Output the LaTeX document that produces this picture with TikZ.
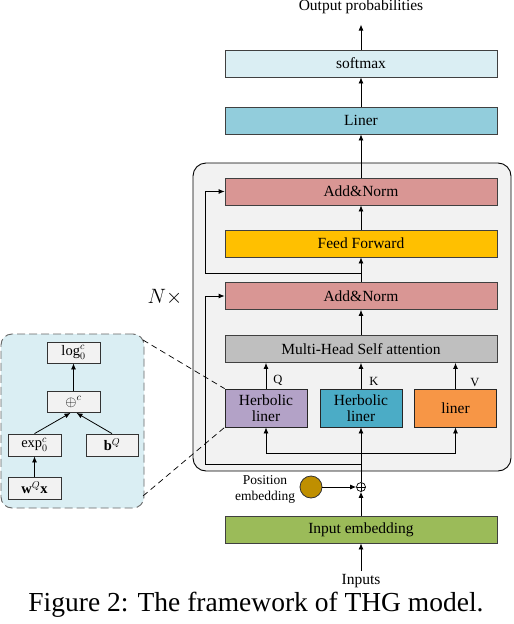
\documentclass[tikz,border=0pt]{standalone}
\usepackage{fontspec}
\setmainfont{Liberation Serif}
\usetikzlibrary{arrows.meta,calc}
\definecolor{cSoft}{HTML}{DAEEF3}
\definecolor{cLiner}{HTML}{92CDDC}
\definecolor{cAdd}{HTML}{D99694}
\definecolor{cFF}{HTML}{FFC000}
\definecolor{cMH}{HTML}{BFBFBF}
\definecolor{cHa}{HTML}{B3A2C7}
\definecolor{cHb}{HTML}{4BACC6}
\definecolor{cLin}{HTML}{F79646}
\definecolor{cIn}{HTML}{9BBB59}
\definecolor{cBig}{HTML}{F2F2F2}
\definecolor{cPos}{HTML}{BF8F00}
\definecolor{cInset}{HTML}{DAEEF3}
\begin{document}
\begin{tikzpicture}[x=1pt,y=-1pt,
  box/.style={draw=black!75,line width=0.8pt,rectangle,minimum width=272pt,minimum height=27pt,inner sep=0pt,font=\fontsize{15.5}{18}\selectfont},
  sbox/.style={draw=black!85,line width=0.8pt,rectangle,minimum width=82pt,minimum height=38pt,inner sep=0pt,align=center,font=\fontsize{15.5}{16}\selectfont},
  ibox/.style={draw=black!80,line width=0.8pt,fill=cBig,rectangle,minimum width=53pt,minimum height=21pt,inner sep=0pt,font=\fontsize{14.5}{16}\selectfont},
  arr/.style={-{Latex[length=6pt,width=5pt]},line width=0.8pt},
  ln/.style={line width=0.8pt},
  zoomln/.style={line width=0.7pt,dash pattern=on 6pt off 4pt},
  lbl/.style={font=\fontsize{15.5}{18}\selectfont,inner sep=0pt},
  qkv/.style={font=\fontsize{12.5}{14}\selectfont,inner sep=0pt}]
\useasboundingbox (0,0) rectangle (514,624);
% big box
\node[draw=black,line width=0.9pt,fill=cBig,rounded corners=13pt,rectangle,minimum width=318pt,minimum height=308pt,inner sep=0pt] (big) at (352,317) {};
% inset
\node[draw=black!60,dash pattern=on 8pt off 4pt,line width=0.9pt,fill=cInset,rounded corners=11pt,rectangle,minimum width=143pt,minimum height=174pt,inner sep=0pt] (inset) at (72.5,421) {};
% main column boxes
\node[box,fill=cSoft] (soft) at (361,63.5) {softmax};
\node[box,fill=cLiner] (liner) at (361,120.5) {Liner};
\node[box,fill=cAdd] (add1) at (361,191.5) {Add\&Norm};
\node[box,fill=cFF] (ff) at (361,243.5) {Feed Forward};
\node[box,fill=cAdd] (add2) at (361,296) {Add\&Norm};
\node[box,fill=cMH] (mh) at (361,349) {Multi-Head Self attention};
\node[sbox,fill=cHa] (ha) at (266,408) {Herbolic\\liner};
\node[sbox,fill=cHb] (hb) at (361,408) {Herbolic\\liner};
\node[sbox,fill=cLin] (lin) at (455.5,408) {liner};
\node[box,fill=cIn] (inemb) at (361,529.5) {Input embedding};
% texts
\node[lbl] (out) at (361,7) {Output probabilities};
\node[lbl] (inputs) at (361,581) {Inputs};
\node[font=\fontsize{20}{22}\selectfont,inner sep=0pt] (nx) at (165,297) {$N\times$};
\node[align=center,font=\fontsize{13.5}{16}\selectfont,inner sep=0pt] (postxt) at (265,489) {Position\\embedding};
\node[draw=black!80,line width=0.8pt,fill=cPos,circle,minimum size=22pt,inner sep=0pt] (pos) at (311,487) {};
\node[draw=black,line width=0.7pt,circle,minimum size=9pt,inner sep=0pt,
  path picture={\draw[line width=0.6pt] (path picture bounding box.north) -- (path picture bounding box.south) (path picture bounding box.west) -- (path picture bounding box.east);}] (plus) at (361,487) {};
\node[font=\fontsize{27.5}{30}\selectfont,inner sep=0pt] (cap) at (256,605) {Figure 2: The framework of THG model.};
% Q K V
\node[qkv] (q) at (278,380) {Q};
\node[qkv] (k) at (374,381) {K};
\node[qkv] (v) at (475,382) {V};
% coordinates
\coordinate (br) at (361,453);
\coordinate (r2a) at (361,464);
\coordinate (r2b) at (205,464);
\coordinate (r1a) at (361,273);
\coordinate (r1b) at (205,273);
% connectors main
\draw[arr] (inputs.north) ++(0,-3) -- (inemb.south);
\draw[arr] (inemb.north) -- (plus.south);
\draw[arr] (pos.east) -- (plus.west);
\draw[arr] (plus.north) -- (hb.south);
\draw[ln] (br -| ha.south) -- (br -| lin.south);
\draw[arr] (br -| ha.south) -- (ha.south);
\draw[arr] (br -| lin.south) -- (lin.south);
\draw[ln] (r2a) -- (r2b);
\draw[arr] (r2b) |- (add2.west);
\draw[arr] (ha.north) -- (mh.south -| ha.north);
\draw[arr] (hb.north) -- (mh.south -| hb.north);
\draw[arr] (lin.north) -- (mh.south -| lin.north);
\draw[arr] (mh.north) -- (add2.south);
\draw[arr] (add2.north) -- (ff.south);
\draw[ln] (r1a) -- (r1b);
\draw[arr] (r1b) |- (add1.west);
\draw[arr] (ff.north) -- (add1.south);
\draw[arr] (add1.north) -- (liner.south);
\draw[arr] (liner.north) -- (soft.south);
\draw[arr] (soft.north) -- ++(0,-25) coordinate (outtip);
% inset
\node[ibox] (log) at (73.5,352.5) {$\mathrm{log}_0^c$};
\node[ibox] (op) at (73.5,402) {$\oplus^c$};
\node[ibox,minimum height=22pt] (exp) at (34.5,445) {$\mathrm{exp}_0^c$};
\node[ibox,minimum height=22pt,minimum width=52pt] (bq) at (112,445) {$\mathbf{b}^Q$};
\node[ibox,minimum height=22pt] (wq) at (34.5,488) {$\mathbf{w}^Q\mathbf{x}$};
\draw[arr] (wq.north) -- (exp.south);
\draw[arr] (exp.north) -- ($(op.south)+(-3,0)$);
\draw[arr] (bq.north) -- ($(op.south)+(3,0)$);
\draw[arr] (op.north) -- (log.south);
% zoom lines
\coordinate (zt) at (143,340);
\coordinate (zb) at (143,496);
\draw[zoomln] (zt) -- (ha.north west);
\draw[zoomln] (zb) -- (ha.south west);
\end{tikzpicture}
\end{document}
